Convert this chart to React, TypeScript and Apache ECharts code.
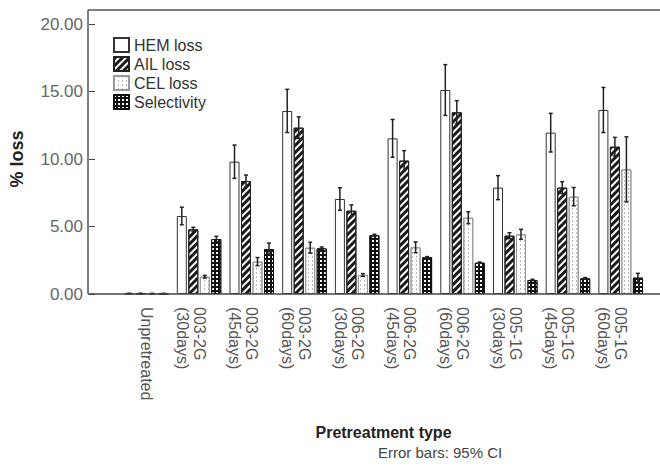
import React, { useEffect, useRef } from "react";
import * as echarts from "echarts";

const categories = [
  "Unpretreated",
  "003-2G|(30days)",
  "003-2G|(45days)",
  "003-2G|(60days)",
  "006-2G|(30days)",
  "006-2G|(45days)",
  "006-2G|(60days)",
  "005-1G|(30days)",
  "005-1G|(45days)",
  "005-1G|(60days)",
];
const seriesNames = ["HEM loss", "AIL loss", "CEL loss", "Selectivity"];
const hemLoss = [0.03, 5.78, 9.8, 13.56, 7.04, 11.53, 15.11, 7.88, 11.95, 13.63];
const ailLoss = [0.03, 4.79, 8.37, 12.32, 6.17, 9.88, 13.46, 4.32, 7.88, 10.91];
const celLoss = [0.02, 1.28, 2.4, 3.43, 1.41, 3.46, 5.65, 4.42, 7.21, 9.23];
const selectivity = [0.02, 4.07, 3.33, 3.38, 4.35, 2.72, 2.32, 1.04, 1.16, 1.21];
const hemErr = [0.03, 0.65, 1.23, 1.6, 0.83, 1.4, 1.88, 0.89, 1.43, 1.67];
const ailErr = [0.03, 0.15, 0.44, 0.8, 0.43, 0.74, 0.86, 0.22, 0.44, 0.69];
const celErr = [0.03, 0.1, 0.3, 0.4, 0.1, 0.4, 0.44, 0.37, 0.68, 2.41];
const selErr = [0.03, 0.2, 0.44, 0.1, 0.07, 0.05, 0.05, 0.05, 0.06, 0.32];
const yTicks = [0, 5, 10, 15, 20];

const BAR_W = 10;
const GAP = 1.5;
const FONT = "'Liberation Sans', Arial, sans-serif";

export default function App() {
  const ref = useRef<HTMLDivElement>(null);
  useEffect(() => {
    if (!ref.current) return;
    const chart = echarts.init(ref.current, undefined, { renderer: "svg" });
    const values = [hemLoss, ailLoss, celLoss, selectivity];
    const errs = [hemErr, ailErr, celErr, selErr];
    const errData: number[][] = [];
    values.forEach((arr, s) =>
      arr.forEach((v, i) => errData.push([i, s, v - errs[s][i], v + errs[s][i]]))
    );
    const styles = [
      { color: "#ffffff", borderColor: "#333", borderWidth: 1 },
      {
        color: "#ffffff",
        borderColor: "#222",
        borderWidth: 1,
        decal: {
          symbol: "rect",
          symbolSize: 1,
          color: "#1a1a1a",
          dashArrayX: [1, 0],
          dashArrayY: [3, 2],
          rotation: -Math.PI / 4,
        },
      },
      {
        color: "#ffffff",
        borderColor: "#999",
        borderWidth: 1,
        decal: {
          symbol: "rect",
          symbolSize: 1,
          color: "#bbbbbb",
          dashArrayX: [[1, 3]],
          dashArrayY: [2, 2],
          rotation: 0,
        },
      },
      {
        color: "#111111",
        borderColor: "#111",
        borderWidth: 1,
        decal: {
          symbol: "rect",
          symbolSize: 1,
          color: "#ffffff",
          dashArrayX: [[2, 2]],
          dashArrayY: [2, 2],
          rotation: 0,
        },
      },
    ];
    const barSeries = values.map((arr, s) => ({
      type: "bar",
      name: seriesNames[s],
      data: arr,
      barWidth: BAR_W,
      barGap: `${(GAP / BAR_W) * 100}%`,
      itemStyle: styles[s],
      emphasis: { disabled: true },
    }));
    chart.setOption({
      animation: false,
      grid: { left: 113, right: 13, top: 24, bottom: 174 },
      legend: {
        orient: "vertical",
        left: 113,
        top: 37,
        padding: 0,
        itemWidth: 15,
        itemHeight: 14,
        itemGap: 3,
        icon: "rect",
        data: seriesNames,
        textStyle: { fontSize: 16, color: "#333", fontFamily: FONT },
      },
      xAxis: {
        type: "category",
        data: categories,
        name: "Pretreatment type",
        nameLocation: "middle",
        nameGap: 130,
        nameTextStyle: { fontSize: 16, fontWeight: "bold", color: "#222", fontFamily: FONT },
        axisLine: { show: false },
        axisTick: { alignWithLabel: true, length: 6, lineStyle: { color: "#444" } },
        axisLabel: {
          rotate: -90,
          margin: 13,
          fontSize: 16,
          lineHeight: 17,
          color: "#555",
          fontFamily: FONT,
          interval: 0,
          formatter: (v: string) => {
            const parts = v.split("|");
            return parts.length > 1 ? "\n" + parts.join("\n") : v;
          },
        },
      },
      yAxis: {
        type: "value",
        min: yTicks[0],
        max: yTicks[yTicks.length - 1],
        interval: yTicks[1] - yTicks[0],
        offset: 25,
        name: "% loss",
        nameLocation: "middle",
        nameGap: 69,
        nameTextStyle: { fontSize: 18, fontWeight: "bold", color: "#222", fontFamily: FONT },
        axisLine: { show: false },
        axisTick: { show: true, length: 6, lineStyle: { color: "#444" } },
        splitLine: { show: false },
        axisLabel: {
          margin: 12,
          fontSize: 17,
          color: "#666",
          fontFamily: FONT,
          formatter: (v: number) => v.toFixed(2),
        },
      },
      graphic: [
        { type: "line", shape: { x1: 88, y1: 10, x2: 88, y2: 294 }, style: { stroke: "#555", lineWidth: 1.5 } },
        { type: "line", shape: { x1: 88, y1: 10, x2: 660, y2: 10 }, style: { stroke: "#555", lineWidth: 1.5 } },
        { type: "line", shape: { x1: 88, y1: 294, x2: 660, y2: 294 }, style: { stroke: "#444", lineWidth: 1.5 }, z: 100 },
        {
          type: "text",
          left: 378,
          top: 445,
          style: { text: "Error bars: 95% CI", fontSize: 15, fill: "#444", fontFamily: FONT },
        },
      ],
      series: [
        ...barSeries,
        {
          type: "custom",
          name: "err",
          coordinateSystem: "cartesian2d",
          data: errData,
          encode: { x: 0, y: [2, 3] },
          z: 10,
          renderItem: (params: any, api: any) => {
            const cat = api.value(0);
            const s = api.value(1);
            const lo = api.coord([cat, api.value(2)]);
            const hi = api.coord([cat, api.value(3)]);
            const x = lo[0] + (s - 1.5) * (BAR_W + GAP);
            const style = { stroke: "#222", lineWidth: 1.5 };
            return {
              type: "group",
              children: [
                { type: "line", shape: { x1: x, y1: lo[1], x2: x, y2: hi[1] }, style },
                { type: "line", shape: { x1: x - 2, y1: lo[1], x2: x + 2, y2: lo[1] }, style },
                { type: "line", shape: { x1: x - 2, y1: hi[1], x2: x + 2, y2: hi[1] }, style },
              ],
            };
          },
        },
      ],
    });
    return () => chart.dispose();
  }, []);
  return (
    <div
      ref={ref}
      style={{ position: "fixed", left: 0, top: 0, width: 660, height: 468, background: "#fff" }}
    />
  );
}
